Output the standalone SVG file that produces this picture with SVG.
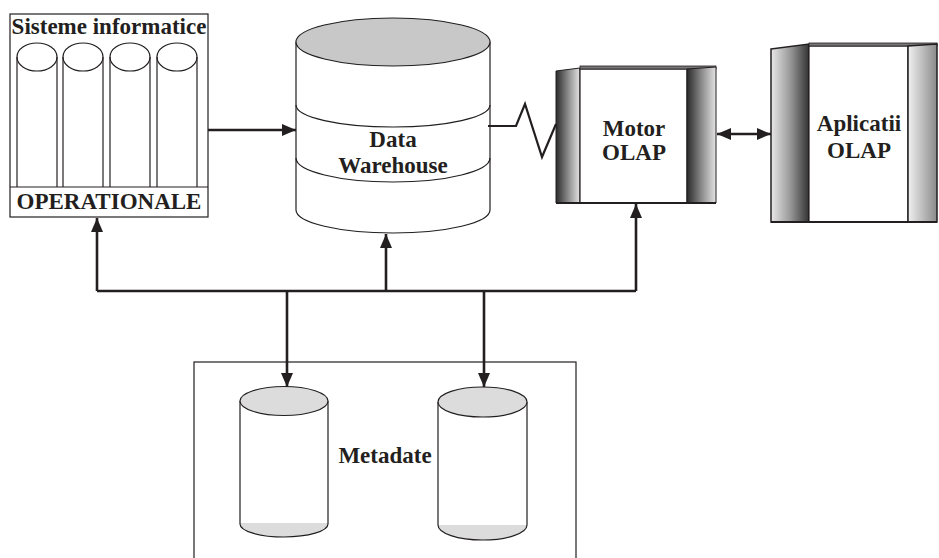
<svg xmlns="http://www.w3.org/2000/svg" width="939" height="558" viewBox="0 0 939 558">
<style>
.t{font-family:"Liberation Serif","Times New Roman",serif;font-weight:bold;font-size:23px;text-anchor:middle;fill:#231f20}
.o{fill:none;stroke:#231f20;stroke-width:1.2}
.w{fill:#fff;stroke:#231f20;stroke-width:1.2}
.c{fill:none;stroke:#231f20;stroke-width:2.6}
</style>
<defs>
<marker id="ah" viewBox="0 0 14 12" markerWidth="14" markerHeight="12" refX="14" refY="6" orient="auto-start-reverse" markerUnits="userSpaceOnUse">
<path d="M0,0 L14,6 L0,12 z" fill="#231f20"/>
</marker>
<linearGradient id="gA" x1="0" y1="0" x2="1" y2="0">
<stop offset="0" stop-color="#2a2a2a"/><stop offset="0.5" stop-color="#8a8a8a"/><stop offset="1" stop-color="#e4e4e4"/>
</linearGradient>
<linearGradient id="gB" x1="0" y1="0" x2="1" y2="0">
<stop offset="0" stop-color="#e8e8e8"/><stop offset="0.5" stop-color="#9a9a9a"/><stop offset="1" stop-color="#333"/>
</linearGradient>
<linearGradient id="gC" x1="0" y1="0" x2="1" y2="0">
<stop offset="0" stop-color="#f0f0f0"/><stop offset="1" stop-color="#8a8a8a"/>
</linearGradient>
</defs>

<g id="sisteme">
<rect class="w" x="10" y="14" width="198" height="203"/>
<line class="o" x1="10" y1="187" x2="208" y2="187"/>
<g class="o">
<ellipse cx="37" cy="57" rx="20" ry="14"/><line x1="17" y1="57" x2="17" y2="187"/><line x1="57" y1="57" x2="57" y2="187"/>
<ellipse cx="83" cy="57" rx="20" ry="14"/><line x1="63" y1="57" x2="63" y2="187"/><line x1="103" y1="57" x2="103" y2="187"/>
<ellipse cx="130" cy="57" rx="20" ry="14"/><line x1="110" y1="57" x2="110" y2="187"/><line x1="150" y1="57" x2="150" y2="187"/>
<ellipse cx="177" cy="57" rx="20" ry="14"/><line x1="157" y1="57" x2="157" y2="187"/><line x1="197" y1="57" x2="197" y2="187"/>
</g>
<text class="t" x="109" y="34">Sisteme informatice</text>
<text class="t" x="109" y="209">OPERATIONALE</text>
</g>

<g id="datawarehouse">
<path class="w" d="M296,42 V210 A97,23 0 0 0 490,210 V42"/>
<ellipse cx="393" cy="42" rx="97" ry="24" fill="#c8c8c8" stroke="#231f20" stroke-width="1.2"/>
<path class="o" d="M296,105 A97,22 0 0 0 490,105"/>
<path class="o" d="M296,158 A97,24 0 0 0 490,158"/>
<text class="t" x="393" y="147">Data</text>
<text class="t" x="393" y="173">Warehouse</text>
</g>

<g id="motor">
<polygon points="556,71 580,68 580,203 556,203" fill="url(#gA)" stroke="#231f20" stroke-width="1"/>
<rect class="w" x="580" y="69" width="107" height="134"/>
<rect x="580" y="66" width="136" height="3" fill="#777" stroke="#231f20" stroke-width="0.8"/>
<polygon points="687,69 716,67 716,203 687,203" fill="url(#gA)" stroke="#231f20" stroke-width="1"/>
<line x1="556" y1="203" x2="716" y2="203" stroke="#231f20" stroke-width="2"/>
<text class="t" x="634" y="136">Motor</text>
<text class="t" x="634" y="160">OLAP</text>
</g>

<g id="aplicatii">
<polygon points="771,49 809,44 809,222 771,222" fill="url(#gB)" stroke="#231f20" stroke-width="1.5"/>
<rect class="w" x="809" y="46" width="99" height="176"/>
<rect x="809" y="43" width="128" height="3" fill="#777" stroke="#231f20" stroke-width="0.8"/>
<polygon points="908,46 937,44 937,222 908,222" fill="url(#gC)" stroke="#231f20" stroke-width="1.5"/>
<line x1="771" y1="222" x2="937" y2="222" stroke="#231f20" stroke-width="2"/>
<text class="t" x="859" y="131">Aplicatii</text>
<text class="t" x="859" y="158">OLAP</text>
</g>

<g id="metadate">
<rect class="o" x="194" y="362" width="382" height="210"/>
<path d="M240,523 H328 V524 A44,13 0 0 1 240,524 Z" fill="#dcdcdc"/>
<path class="o" d="M240,401 V524 A44,13 0 0 0 328,524 V401"/>
<ellipse cx="284" cy="401" rx="44" ry="14.5" fill="#dcdcdc" stroke="#231f20" stroke-width="1.2"/>
<path d="M438,525 H527 V525 A44.5,15 0 0 1 438,525 Z" fill="#dcdcdc"/>
<path class="o" d="M438,402 V525 A44.5,15 0 0 0 527,525 V402"/>
<ellipse cx="482.5" cy="402" rx="44.5" ry="15" fill="#dcdcdc" stroke="#231f20" stroke-width="1.2"/>
<text class="t" x="385" y="463">Metadate</text>
</g>

<g id="connectors">
<path class="c" d="M208,130 H296" marker-end="url(#ah)"/>
<polyline points="488,126 516,126 525,104 542,157 556,124" fill="none" stroke="#231f20" stroke-width="2.2"/>
<path class="c" d="M717,134 H771" marker-start="url(#ah)" marker-end="url(#ah)"/>
<path class="c" d="M97,291 H636"/>
<path class="c" d="M97,291 V218" marker-end="url(#ah)"/>
<path class="c" d="M386,291 V234" marker-end="url(#ah)"/>
<path class="c" d="M636,291 V204" marker-end="url(#ah)"/>
<path class="c" d="M287,291 V387" marker-end="url(#ah)"/>
<path class="c" d="M484,291 V387" marker-end="url(#ah)"/>
</g>
</svg>
